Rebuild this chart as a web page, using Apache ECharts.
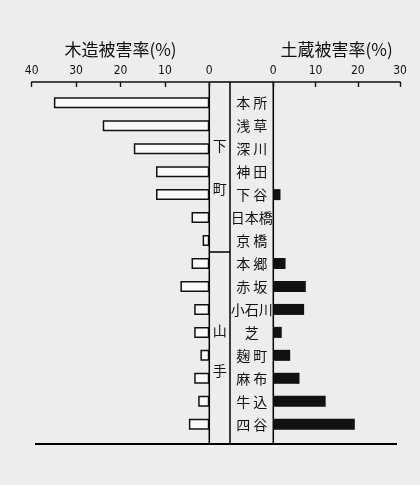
<!DOCTYPE html>
<html>
<head>
<meta charset="utf-8">
<script src="https://cdn.jsdelivr.net/npm/echarts@6/dist/echarts.min.js"></script>
<style>
  html, body { margin: 0; padding: 0; background: #ededed; }
  #chart { width: 420px; height: 485px; }
</style>
</head>
<body>
<div id="chart"></div>
<script>
// districts of Tokyo, top to bottom
var districts = ['本所', '浅草', '深川', '神田', '下谷', '日本橋', '京橋',
  '本郷', '赤坂', '小石川', '芝', '麹町', '麻布', '牛込', '四谷'];
// damage rate of wooden houses (%)
var woodRate = [35, 24, 17, 12, 12, 4, 1.5, 4, 6.5, 3.4, 3.4, 2, 3.4, 2.5, 4.6];
// damage rate of earthen storehouses (%)
var storeRate = [0, 0, 0, 0, 1.7, 0, 0, 2.9, 7.7, 7.3, 2, 4, 6.2, 12.4, 19.3];
var woodTicks = [0, 40, 10];
var storeTicks = [0, 30, 10];
var groups = [['下', '町'], ['山', '手']];

var FONT = '"Noto Sans CJK JP", sans-serif';
var axisTop = 82, frameBottom = 444;
var gTop = 91.3, gH = 344.4;
var lx0 = 31.7, lx1 = 209.3, midX = 230, rx0 = 273.3, rx1 = 400;

var chart = echarts.init(document.getElementById('chart'));

function axisX(ticks, inv, title) {
  return {
    type: 'value', min: ticks[0], max: ticks[1], interval: ticks[2],
    inverse: inv, position: 'top', offset: gTop - axisTop,
    name: title, nameLocation: 'middle', nameGap: 24,
    nameTextStyle: { fontFamily: FONT, fontSize: 17, color: '#111' },
    axisLine: { show: true, lineStyle: { color: '#111', width: 1.6 } },
    axisTick: { show: true, inside: true, length: 5, lineStyle: { color: '#111', width: 1.4 } },
    axisLabel: { fontFamily: 'DejaVu Sans Condensed', fontSize: 12, color: '#111', margin: 5 },
    splitLine: { show: false }
  };
}

var gl = { color: '#111', lineWidth: 1.5 };
var graphics = [
  { type: 'line', shape: { x1: lx1, y1: axisTop, x2: rx0, y2: axisTop }, style: gl },
  { type: 'line', shape: { x1: lx1, y1: axisTop, x2: lx1, y2: frameBottom }, style: gl },
  { type: 'line', shape: { x1: midX, y1: axisTop, x2: midX, y2: frameBottom }, style: gl },
  { type: 'line', shape: { x1: rx0, y1: axisTop, x2: rx0, y2: frameBottom }, style: gl },
  { type: 'line', shape: { x1: lx1, y1: gTop + gH * 7 / 15, x2: midX, y2: gTop + gH * 7 / 15 }, style: gl },
  { type: 'line', shape: { x1: 35, y1: frameBottom, x2: 397, y2: frameBottom }, style: { color: '#111', lineWidth: 2 } }
];
var groupY = [[146, 189], [331, 371]];
groups.forEach(function (g, i) {
  g.forEach(function (ch, j) {
    graphics.push({
      type: 'text', x: (lx1 + midX) / 2, y: groupY[i][j],
      style: { text: ch, font: '14px ' + FONT, fill: '#111', align: 'center', verticalAlign: 'middle' }
    });
  });
});

chart.setOption({
  backgroundColor: '#ededed',
  animation: false,
  grid: [
    { left: lx0, top: gTop, width: lx1 - lx0, height: gH },
    { left: rx0, top: gTop, width: rx1 - rx0, height: gH }
  ],
  xAxis: [
    Object.assign(axisX(woodTicks, true, '木造被害率(%)'), { gridIndex: 0 }),
    Object.assign(axisX(storeTicks, false, '土蔵被害率(%)'), { gridIndex: 1 })
  ],
  yAxis: [
    { type: 'category', gridIndex: 0, data: districts, inverse: true, show: false },
    {
      type: 'category', gridIndex: 1, data: districts, inverse: true, position: 'left',
      axisLine: { show: false }, axisTick: { show: false },
      axisLabel: {
        fontFamily: FONT, fontSize: 14, color: '#111', align: 'center', margin: 21.6,
        formatter: function (v) { return v.length === 2 ? v.charAt(0) + ' ' + v.charAt(1) : v; }
      }
    }
  ],
  series: [
    {
      type: 'bar', xAxisIndex: 0, yAxisIndex: 0, data: woodRate, barWidth: 11,
      itemStyle: { color: '#fafafa', borderColor: '#111', borderWidth: 1.5 }
    },
    {
      type: 'bar', xAxisIndex: 1, yAxisIndex: 1, data: storeRate, barWidth: 11,
      itemStyle: { color: '#111' }
    }
  ],
  graphic: graphics
});
</script>
</body>
</html>
